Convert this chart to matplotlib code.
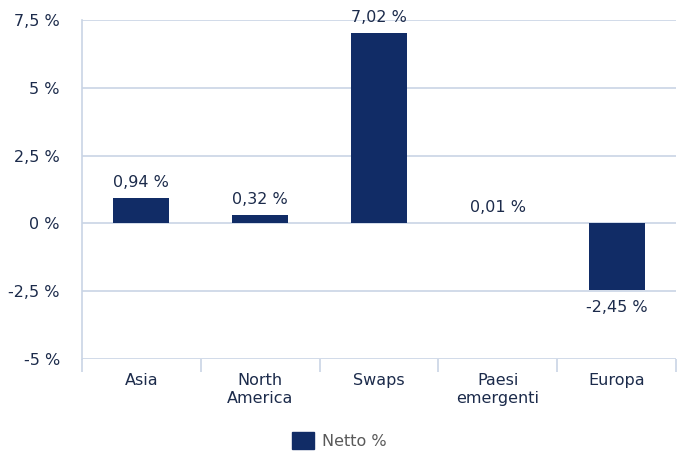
import matplotlib
matplotlib.use("Agg")
import matplotlib.pyplot as plt
from matplotlib.patches import Patch

categories = ["Asia", "North\nAmerica", "Swaps", "Paesi\nemergenti", "Europa"]
netto = [0.94, 0.32, 7.02, 0.01, -2.45]
yticks = [-5, -2.5, 0, 2.5, 5, 7.5]
ytick_labels = ["-5 %", "-2,5 %", "0 %", "2,5 %", "5 %", "7,5 %"]

bar_color = "#112c66"
grid_color = "#c9d4e5"
text_color = "#1c2b4b"

plt.rcParams['font.family'] = ['DejaVu Sans']
fs = 11.5

fig = plt.figure(figsize=(6.78, 4.51), dpi=100)
ax = fig.add_axes([82/678, 1 - 359/451, 594/678, 339/451])

x = range(len(categories))
bars = ax.bar(x, netto, width=0.47, color=bar_color, zorder=3)

for rect, v in zip(bars, netto):
    label = ('%.2f %%' % v).replace('.', ',')
    cx = rect.get_x() + rect.get_width() / 2.0
    if v >= 0:
        ax.annotate(label, (cx, v), xytext=(0, 5.5), textcoords='offset points',
                    ha='center', va='bottom', fontsize=fs, color=text_color)
    else:
        ax.annotate(label, (cx, v), xytext=(0, -7.5), textcoords='offset points',
                    ha='center', va='top', fontsize=fs, color=text_color)

ax.set_ylim(-5, 7.5)
ax.set_xlim(-0.5, len(categories) - 0.5)
ax.set_yticks(yticks)
ax.set_yticklabels(ytick_labels, fontsize=fs, color=text_color)
ax.tick_params(axis='y', length=0, pad=16)

ax.set_xticks(list(x))
ax.set_xticklabels(categories, fontsize=fs, color=text_color, va='top', linespacing=1.3)
ax.tick_params(axis='x', which='major', length=0, pad=10)
ax.set_xticks([i - 0.5 for i in range(len(categories) + 1)], minor=True)
ax.tick_params(axis='x', which='minor', length=9.5, width=1.2, color=grid_color)

ax.yaxis.grid(True, color=grid_color, linewidth=1.2, zorder=0)
for s in ['top', 'right', 'bottom']:
    ax.spines[s].set_visible(False)
ax.spines['left'].set_color(grid_color)
ax.spines['left'].set_linewidth(1.2)

fig.legend(handles=[Patch(color=bar_color, label='Netto %')], loc='lower center',
           bbox_to_anchor=(0.5, -0.028), frameon=False, fontsize=fs,
           labelcolor='#595959', handlelength=1.4, handleheight=1.3, handletextpad=0.5)

fig.savefig("out.png", dpi=100)
